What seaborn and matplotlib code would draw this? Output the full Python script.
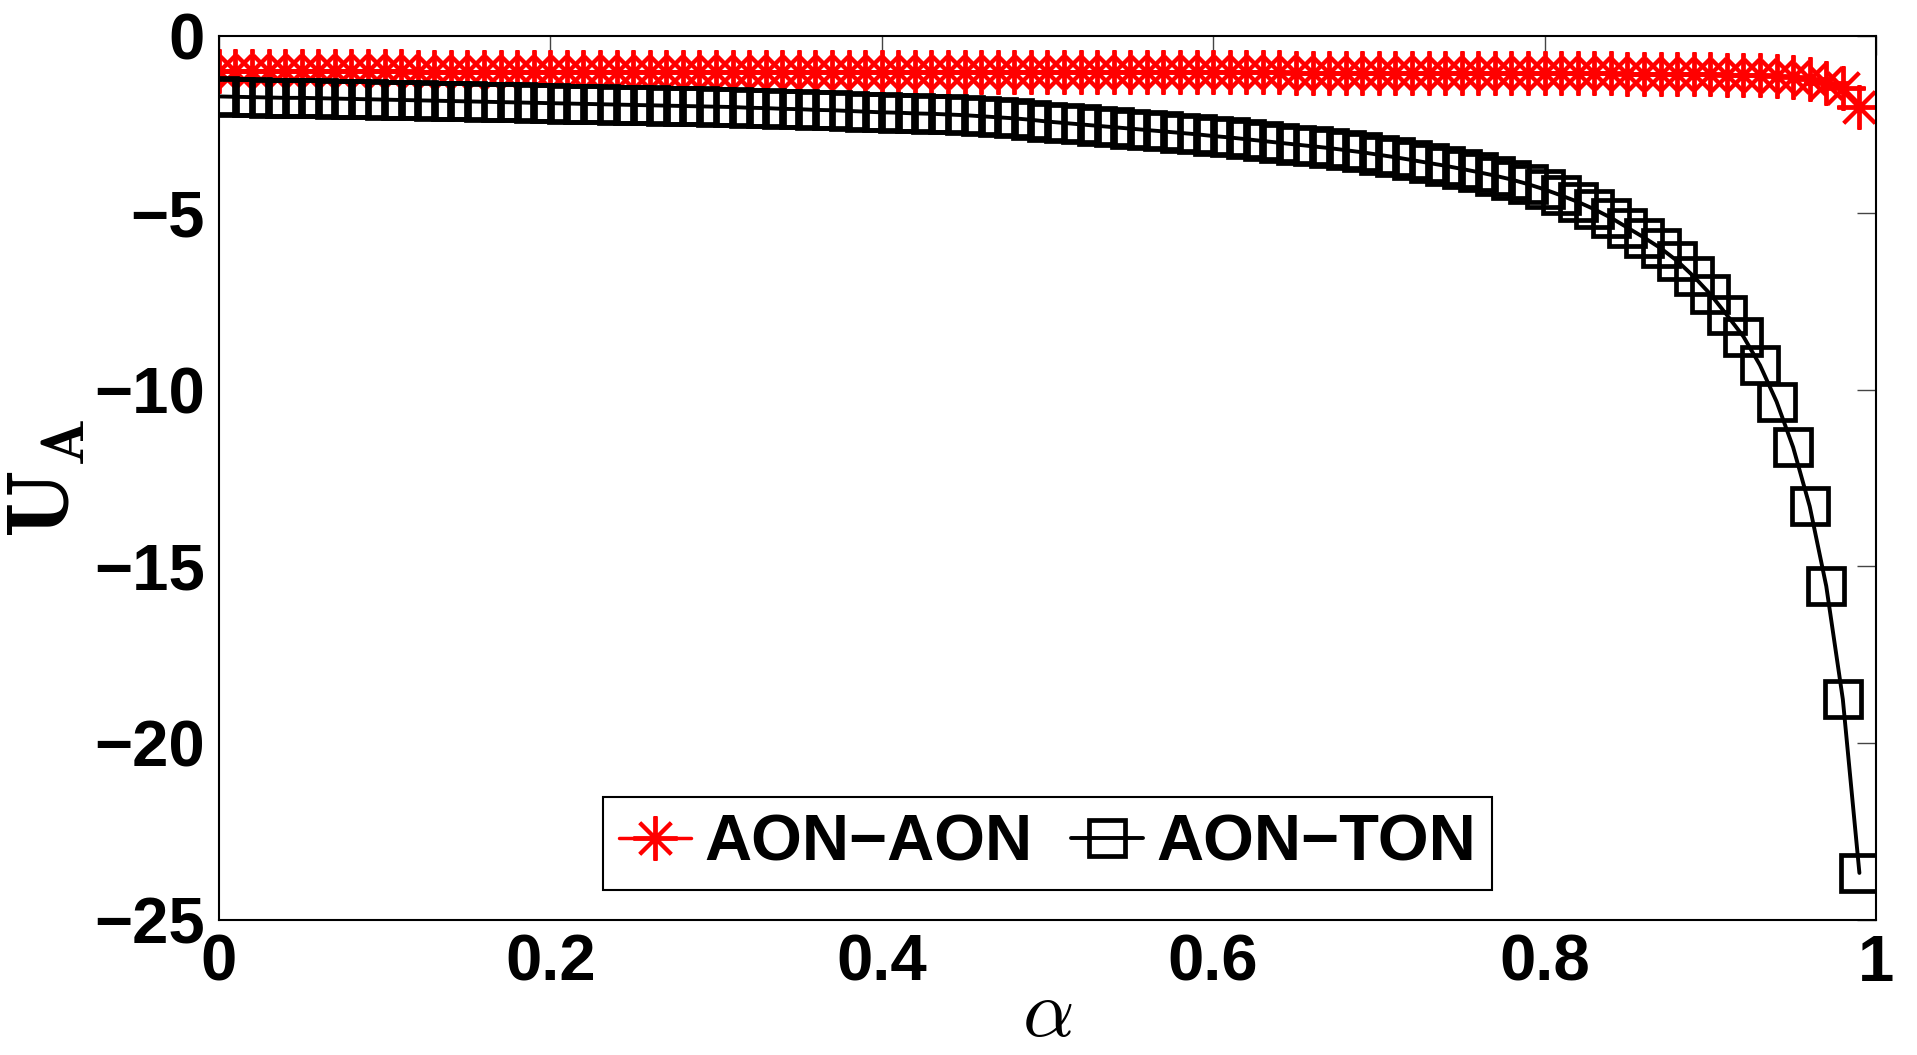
import numpy as np
import pandas as pd
import seaborn as sns
import matplotlib.pyplot as plt

# alpha grid, 0 .. 0.99 in steps of 0.01
alpha = np.linspace(0, 0.99, 100)

aon_aon = [
    -1.00, -1.00, -1.00, -1.00, -1.00, -1.00, -1.00, -1.00, -1.00, -1.00,
    -1.00, -1.00, -1.01, -1.01, -1.01, -1.01, -1.01, -1.01, -1.01, -1.01,
    -1.01, -1.01, -1.01, -1.01, -1.01, -1.01, -1.01, -1.01, -1.01, -1.01,
    -1.02, -1.02, -1.02, -1.02, -1.02, -1.02, -1.02, -1.02, -1.02, -1.02,
    -1.02, -1.02, -1.02, -1.02, -1.02, -1.02, -1.02, -1.02, -1.02, -1.02,
    -1.03, -1.03, -1.03, -1.03, -1.03, -1.03, -1.03, -1.03, -1.03, -1.03,
    -1.03, -1.03, -1.03, -1.03, -1.03, -1.04, -1.04, -1.04, -1.04, -1.04,
    -1.04, -1.04, -1.04, -1.04, -1.04, -1.05, -1.05, -1.05, -1.05, -1.05,
    -1.05, -1.05, -1.06, -1.06, -1.06, -1.07, -1.07, -1.07, -1.08, -1.08,
    -1.08, -1.09, -1.10, -1.11, -1.13, -1.17, -1.23, -1.33, -1.48, -2.02,
]

aon_ton = [
    -1.71, -1.72, -1.73, -1.74, -1.75, -1.75, -1.76, -1.77, -1.78, -1.79,
    -1.80, -1.81, -1.82, -1.83, -1.84, -1.85, -1.86, -1.87, -1.88, -1.89,
    -1.90, -1.91, -1.92, -1.93, -1.94, -1.95, -1.96, -1.97, -1.98, -1.99,
    -2.00, -2.01, -2.03, -2.04, -2.06, -2.07, -2.09, -2.10, -2.12, -2.14,
    -2.16, -2.17, -2.19, -2.20, -2.22, -2.24, -2.27, -2.30, -2.33, -2.37,
    -2.42, -2.46, -2.50, -2.54, -2.58, -2.62, -2.66, -2.70, -2.74, -2.78,
    -2.83, -2.87, -2.92, -2.97, -3.02, -3.07, -3.12, -3.17, -3.23, -3.29,
    -3.36, -3.43, -3.51, -3.59, -3.67, -3.76, -3.85, -3.95, -4.06, -4.19,
    -4.34, -4.51, -4.69, -4.90, -5.14, -5.42, -5.70, -6.00, -6.36, -6.80,
    -7.30, -7.89, -8.50, -9.31, -10.34, -11.63, -13.30, -15.56, -18.76, -23.67,
]

labels = ["AON\u2212AON", "AON\u2212TON"]
xticks = [0, 0.2, 0.4, 0.6, 0.8, 1]
xticklabels = ["0", "0.2", "0.4", "0.6", "0.8", "1"]
yticks = [0, -5, -10, -15, -20, -25]

df = pd.DataFrame({"alpha": alpha, "aon_aon": aon_aon, "aon_ton": aon_ton})

sns.set_style("white")
plt.rcParams["font.family"] = ["Liberation Sans", "DejaVu Sans"]
plt.rcParams["font.weight"] = "bold"
plt.rcParams["mathtext.fontset"] = "cm"
plt.rcParams["text.color"] = "black"
plt.rcParams["axes.labelcolor"] = "black"
plt.rcParams["xtick.color"] = "black"
plt.rcParams["ytick.color"] = "black"

fig = plt.figure(figsize=(19.17, 10.55), dpi=100)
ax = fig.add_axes([0.1142, 0.128, 0.8644, 0.8379])

sns.lineplot(data=df, x="alpha", y="aon_aon", ax=ax, color="red", lw=2.5,
             marker=(8, 2, 0), markersize=32, markeredgewidth=2.8,
             markeredgecolor="red", label=labels[0], sort=False, estimator=None)
sns.lineplot(data=df, x="alpha", y="aon_ton", ax=ax, color="black", lw=2.8,
             marker="s", markersize=26, markeredgewidth=3.4,
             markerfacecolor="none", markeredgecolor="black",
             label=labels[1], sort=False, estimator=None)

ax.set_xlim(0, 1)
ax.set_ylim(-25, 0)
ax.set_xticks(xticks)
ax.set_xticklabels(xticklabels)
ax.set_yticks(yticks)
ax.tick_params(direction="in", length=14, width=1, color="#444444",
               labelcolor="black", top=True, right=True, labelsize=47, pad=10)
for lab in ax.get_xticklabels() + ax.get_yticklabels():
    lab.set_fontweight("bold")
for sp in ax.spines.values():
    sp.set_visible(True)
    sp.set_color("black")
    sp.set_linewidth(1.5)

ax.set_xlabel(r"$\alpha$", fontsize=58, labelpad=-12, color="black")
ax.set_ylabel(r"$\mathbf{U}_{\mathbf{A}}$", fontsize=64, labelpad=4, color="black")

leg = ax.legend(loc="lower center", bbox_to_anchor=(0.5, 0.034), ncol=2,
                fontsize=47, frameon=True, fancybox=False, framealpha=1,
                edgecolor="black", borderpad=0.25, handlelength=1.1,
                handletextpad=0.2, columnspacing=0.6, borderaxespad=0)
leg.get_frame().set_linewidth(1.5)
for t in leg.get_texts():
    t.set_fontweight("bold")
    t.set_color("black")

fig.savefig("out.png", dpi=100)
